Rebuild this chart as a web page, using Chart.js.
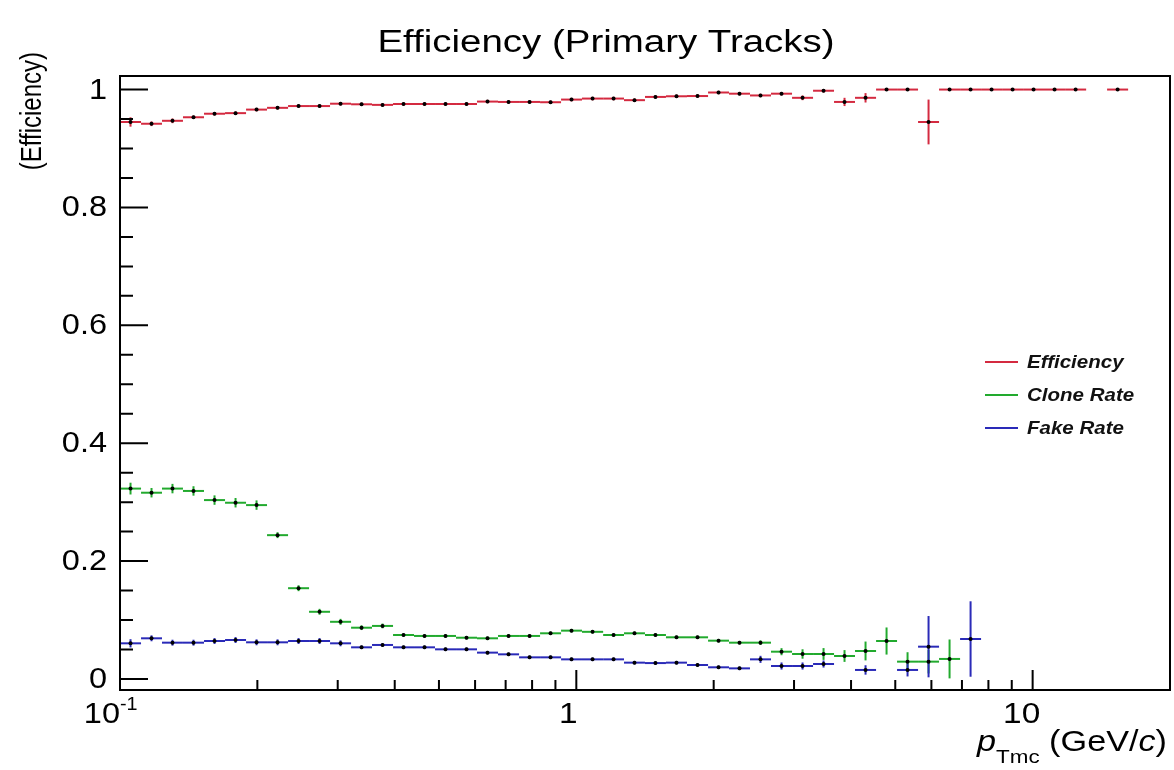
<!DOCTYPE html>
<html>
<head>
<meta charset="utf-8">
<title>Efficiency (Primary Tracks)</title>
<script src="https://cdn.jsdelivr.net/npm/chart.js@4.4.1/dist/chart.umd.min.js"></script>
<style>
  html, body { margin: 0; padding: 0; background: #fff; }
  #wrap { width: 1174px; height: 770px; }
</style>
</head>
<body>
<div id="wrap"><canvas id="effChart" width="1174" height="770"></canvas></div>
<script>
// 50 log bins from 0.1 to 20 GeV/c (low edges + last upper edge)
const binEdges = [
  0.1, 0.1112, 0.1236, 0.1374, 0.1528, 0.1699, 0.1889, 0.2100, 0.2335, 0.2596,
  0.2886, 0.3209, 0.3567, 0.3966, 0.4409, 0.4902, 0.5450, 0.6059, 0.6736, 0.7491,
  0.8328, 0.9259, 1.029, 1.145, 1.272, 1.414, 1.572, 1.748, 1.944, 2.161,
  2.402, 2.671, 2.970, 3.302, 3.671, 4.081, 4.538, 5.045, 5.609, 6.236,
  6.934, 7.709, 8.571, 9.529, 10.59, 11.78, 13.10, 14.56, 16.19, 18.00, 20.0
];

const effValues = [
  0.945, 0.942, 0.947, 0.953, 0.959, 0.960, 0.966, 0.969, 0.972, 0.972,
  0.976, 0.975, 0.974, 0.9755, 0.9755, 0.9755, 0.9755, 0.9796, 0.979, 0.979,
  0.9785, 0.983, 0.9847, 0.9847, 0.982, 0.9875, 0.9886, 0.989, 0.995, 0.993,
  0.990, 0.993, 0.986, 0.998, 0.979, 0.986, 1.0, 1.0, 0.945, 1.0,
  1.0, 1.0, 1.0, 1.0, 1.0, 1.0, null, 1.0, null, null
];
const effErrors = [
  0.008, 0.004, 0.004, 0.003, 0.003, 0.003, 0.003, 0.003, 0.003, 0.003,
  0.003, 0.003, 0.003, 0.003, 0.003, 0.003, 0.003, 0.003, 0.003, 0.003,
  0.003, 0.003, 0.003, 0.003, 0.003, 0.003, 0.003, 0.003, 0.003, 0.003,
  0.003, 0.003, 0.004, 0.003, 0.007, 0.008, 0.002, 0.002, 0.038, 0.002,
  0.002, 0.002, 0.002, 0.002, 0.002, 0.002, null, 0.002, null, null
];

const cloneValues = [
  0.323, 0.316, 0.323, 0.319, 0.3035, 0.299, 0.295, 0.244, 0.154, 0.114,
  0.097, 0.087, 0.090, 0.0746, 0.073, 0.073, 0.070, 0.069, 0.073, 0.073,
  0.0775, 0.082, 0.080, 0.0746, 0.0775, 0.0746, 0.0707, 0.0707, 0.065, 0.0616,
  0.0616, 0.0463, 0.0424, 0.0424, 0.039, 0.0475, 0.0644, 0.0294, 0.0294, 0.034,
  null, null, null, null, null, null, null, null, null, null
];
const cloneErrors = [
  0.010, 0.008, 0.008, 0.008, 0.008, 0.008, 0.008, 0.005, 0.005, 0.005,
  0.005, 0.004, 0.004, 0.003, 0.003, 0.003, 0.003, 0.003, 0.003, 0.003,
  0.003, 0.003, 0.003, 0.003, 0.003, 0.003, 0.003, 0.003, 0.003, 0.003,
  0.004, 0.006, 0.008, 0.010, 0.010, 0.016, 0.023, 0.016, 0.020, 0.033,
  null, null, null, null, null, null, null, null, null, null
];

const fakeValues = [
  0.0605, 0.069, 0.0616, 0.0616, 0.0644, 0.0661, 0.0622, 0.0622, 0.0644, 0.0644,
  0.0605, 0.0537, 0.0577, 0.0537, 0.0537, 0.0503, 0.0503, 0.0447, 0.0418, 0.0367,
  0.0367, 0.0333, 0.0333, 0.0333, 0.0277, 0.027, 0.0277, 0.0237, 0.0198, 0.018,
  0.0333, 0.022, 0.022, 0.0254, null, 0.0153, null, 0.0153, 0.0548, null,
  0.0678, null, null, null, null, null, null, null, null, null
];
const fakeErrors = [
  0.007, 0.005, 0.005, 0.005, 0.005, 0.005, 0.005, 0.005, 0.005, 0.005,
  0.005, 0.003, 0.003, 0.003, 0.003, 0.003, 0.003, 0.003, 0.003, 0.003,
  0.003, 0.003, 0.003, 0.003, 0.003, 0.003, 0.003, 0.003, 0.003, 0.003,
  0.006, 0.006, 0.006, 0.006, null, 0.008, null, 0.011, 0.052, null,
  0.064, null, null, null, null, null, null, null, null, null
];

const seriesLabels = ["Efficiency", "Clone Rate", "Fake Rate"];
const seriesColors = ["#d42a40", "#22aa2e", "#2a2ab8"];

const xMajorTicks = [0.1, 1, 10];
const xTickLabels = ["10^-1", "1", "10"];
const xMinorTicks = [0.2, 0.3, 0.4, 0.5, 0.6, 0.7, 0.8, 0.9, 2, 3, 4, 5, 6, 7, 8, 9];
const yMajorTicks = [0, 0.2, 0.4, 0.6, 0.8, 1];
const yTickLabels = ["0", "0.2", "0.4", "0.6", "0.8", "1"];
const yMinorTicks = [0.05, 0.1, 0.15, 0.25, 0.3, 0.35, 0.45, 0.5, 0.55, 0.65, 0.7, 0.75, 0.85, 0.9, 0.95];

const FONT = "'Liberation Sans', Arial, Helvetica, sans-serif";

function toPoints(values, errors) {
  const pts = [];
  values.forEach((v, i) => {
    if (v === null) return;
    pts.push({
      x: Math.sqrt(binEdges[i] * binEdges[i + 1]),
      y: v,
      lo: binEdges[i],
      hi: binEdges[i + 1],
      err: errors[i]
    });
  });
  return pts;
}

// text drawn slightly wide, like the original ROOT picture
function drawText(ctx, text, x, y, font, align, sx) {
  ctx.save();
  ctx.font = font;
  ctx.textAlign = "left";
  const w = ctx.measureText(text).width * sx;
  const x0 = align === "center" ? x - w / 2 : align === "right" ? x - w : x;
  ctx.translate(x0, y);
  ctx.scale(sx, 1);
  ctx.fillText(text, 0, 0);
  ctx.restore();
  return w;
}

// ROOT-like drawing: bin-width bars, error bars, frame, ticks, titles, legend
const rootStyle = {
  id: "rootStyle",
  beforeDatasetsDraw(chart) {
    const ctx = chart.ctx;
    const xs = chart.scales.x;
    const ys = chart.scales.y;
    const area = chart.chartArea;
    ctx.save();
    ctx.beginPath();
    ctx.rect(area.left, area.top, area.right - area.left, area.bottom - area.top);
    ctx.clip();
    ctx.lineWidth = 2;
    chart.data.datasets.forEach(ds => {
      ctx.strokeStyle = ds.borderColor;
      ds.data.forEach(p => {
        const xl = xs.getPixelForValue(p.lo);
        const xr = xs.getPixelForValue(p.hi);
        const xc = xs.getPixelForValue(p.x);
        const y = ys.getPixelForValue(p.y);
        ctx.beginPath();
        ctx.moveTo(xl, y);
        ctx.lineTo(xr, y);
        ctx.stroke();
        if (p.err) {
          ctx.beginPath();
          ctx.moveTo(xc, ys.getPixelForValue(p.y - p.err));
          ctx.lineTo(xc, ys.getPixelForValue(p.y + p.err));
          ctx.stroke();
        }
      });
    });
    ctx.restore();
  },
  afterDraw(chart) {
    const ctx = chart.ctx;
    const xs = chart.scales.x;
    const ys = chart.scales.y;
    const a = chart.chartArea;
    ctx.save();
    ctx.strokeStyle = "#000";
    ctx.fillStyle = "#000";
    ctx.lineWidth = 2;

    // frame
    ctx.strokeRect(a.left, a.top, a.right - a.left, a.bottom - a.top);

    // y ticks (inside, from left edge)
    ctx.beginPath();
    yMajorTicks.forEach(v => {
      const y = ys.getPixelForValue(v);
      ctx.moveTo(a.left, y);
      ctx.lineTo(a.left + 28, y);
    });
    yMinorTicks.forEach(v => {
      const y = ys.getPixelForValue(v);
      ctx.moveTo(a.left, y);
      ctx.lineTo(a.left + 13, y);
    });
    // x ticks (inside, from bottom edge)
    xMajorTicks.forEach(v => {
      const x = xs.getPixelForValue(v);
      ctx.moveTo(x, a.bottom);
      ctx.lineTo(x, a.bottom - 20);
    });
    xMinorTicks.forEach(v => {
      const x = xs.getPixelForValue(v);
      ctx.moveTo(x, a.bottom);
      ctx.lineTo(x, a.bottom - 10);
    });
    ctx.stroke();

    const tickFont = "29px " + FONT;

    // y tick labels
    ctx.textBaseline = "middle";
    yTickLabels.forEach((t, i) => {
      drawText(ctx, t, a.left - 13, ys.getPixelForValue(yMajorTicks[i]) + 1, tickFont, "right", 1.12);
    });

    // x tick labels
    ctx.textBaseline = "alphabetic";
    xTickLabels.forEach((t, i) => {
      const x = xs.getPixelForValue(xMajorTicks[i]);
      const yb = a.bottom + 33;
      if (t.includes("^")) {
        const [base, exp] = t.split("^");
        drawText(ctx, base, x, yb, tickFont, "right", 1.12);
        drawText(ctx, exp, x, yb - 13, "18px " + FONT, "left", 1.1);
      } else {
        drawText(ctx, t, x - 8 - 3 * (t.length - 1), yb, tickFont, "center", 1.15);
      }
    });

    // main title
    drawText(ctx, "Efficiency (Primary Tracks)", 606, 52, "31px " + FONT, "center", 1.24);

    // y axis title (right-aligned to the top, as ROOT does)
    ctx.save();
    ctx.translate(41, 52);
    ctx.rotate(-Math.PI / 2);
    ctx.scale(1, 1.2);
    ctx.font = "24px " + FONT;
    ctx.textAlign = "right";
    ctx.fillText("(Efficiency)", 0, 0);
    ctx.restore();

    // x axis title: p_Tmc (GeV/c), right-aligned
    const parts = [
      { t: "p", f: "italic 29px " + FONT, dy: 0 },
      { t: "Tmc", f: "19px " + FONT, dy: 12 },
      { t: " (GeV/", f: "29px " + FONT, dy: 0 },
      { t: "c", f: "italic 29px " + FONT, dy: 0 },
      { t: ")", f: "29px " + FONT, dy: 0 }
    ];
    const sx = 1.18;
    let total = 0;
    parts.forEach(p => { ctx.font = p.f; p.w = ctx.measureText(p.t).width * sx; total += p.w; });
    let px = 1167 - total;
    parts.forEach(p => {
      drawText(ctx, p.t, px, 751 + p.dy, p.f, "left", sx);
      px += p.w;
    });

    // legend
    ctx.textBaseline = "middle";
    chart.data.datasets.forEach((ds, i) => {
      const y = 362 + i * 33;
      ctx.strokeStyle = ds.borderColor;
      ctx.beginPath();
      ctx.moveTo(985, y);
      ctx.lineTo(1018, y);
      ctx.stroke();
      ctx.fillStyle = "#111";
      drawText(ctx, ds.label, 1027, y + 1, "bold italic 18px " + FONT, "left", 1.14);
    });
    ctx.restore();
  }
};

const ctx = document.getElementById("effChart").getContext("2d");
new Chart(ctx, {
  type: "scatter",
  data: {
    datasets: [
      { label: seriesLabels[0], data: toPoints(effValues, effErrors), borderColor: seriesColors[0] },
      { label: seriesLabels[1], data: toPoints(cloneValues, cloneErrors), borderColor: seriesColors[1] },
      { label: seriesLabels[2], data: toPoints(fakeValues, fakeErrors), borderColor: seriesColors[2] }
    ].map(ds => Object.assign(ds, {
      showLine: false,
      pointRadius: 2,
      pointBackgroundColor: "#000",
      pointBorderWidth: 0
    }))
  },
  options: {
    responsive: false,
    animation: false,
    layout: { padding: { left: 120, right: 4, top: 76, bottom: 80 } },
    plugins: {
      legend: { display: false },
      title: { display: false },
      tooltip: { enabled: false }
    },
    scales: {
      x: { type: "logarithmic", min: 0.1, max: 20, display: false },
      y: { type: "linear", min: -0.0187, max: 1.023, display: false }
    }
  },
  plugins: [rootStyle]
});
</script>
</body>
</html>
